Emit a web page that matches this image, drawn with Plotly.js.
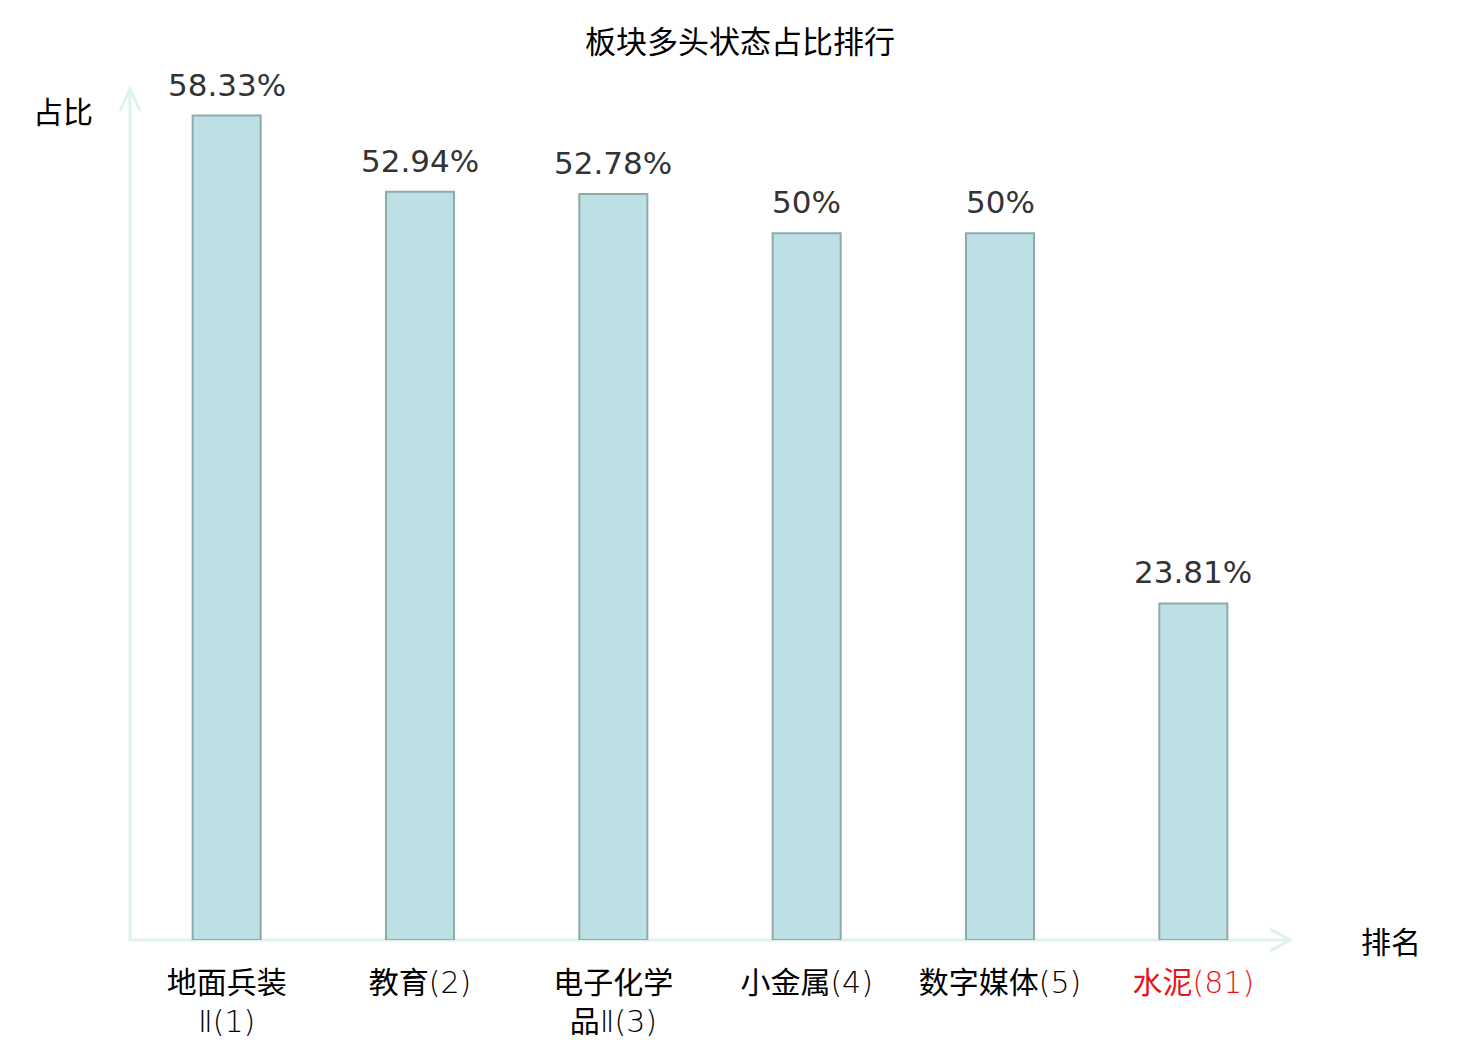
<!DOCTYPE html>
<html>
<head>
<meta charset="utf-8">
<script src="https://cdn.plot.ly/plotly-3.0.1.min.js"></script>
<style>
html,body{margin:0;padding:0;background:#fff;}
#chart{width:1480px;height:1040px;}
</style>
</head>
<body>
<div id="chart"></div>
<script>
// ---- data ----
const sectors = ['地面兵装Ⅱ', '教育', '电子化学品Ⅱ', '小金属', '数字媒体', '水泥'];
const ranks = [1, 2, 3, 4, 5, 81];
const shares = [58.33, 52.94, 52.78, 50, 50, 23.81];
const shareLabels = ['58.33%', '52.94%', '52.78%', '50%', '50%', '23.81%'];
const highlight = [false, false, false, false, false, true];

const chartTitle = '板块多头状态占比排行';
const yName = '占比';
const xName = '排名';

// ---- build labels ----
const thin = t => '<span style="font-family:DejaVu Sans;font-weight:200">' + t + '</span>';
function styleLatin(s) {
  // put non-CJK runs in a thin latin face
  return s.replace(/[^\u4e00-\u9fff<>a-z\/]+/g, m => thin(m));
}
function wrap(s, n) {
  const chars = Array.from(s);
  const out = [];
  for (let i = 0; i < chars.length; i += n) out.push(chars.slice(i, i + n).join(''));
  return out;
}
const idx = sectors.map((_, i) => i);
const tickText = sectors.map((s, i) => {
  const lines = wrap(s, 4);
  lines[lines.length - 1] += '(' + ranks[i] + ')';
  const t = lines.map(styleLatin).join('<br>');
  return highlight[i] ? '<span style="color:#e8141b">' + t + '</span>' : t;
});

const axisColor = '#dff2ef';
const cjkFont = '"Noto Sans CJK SC", sans-serif';

const trace = {
  type: 'bar',
  x: idx,
  y: shares,
  marker: {
    color: '#bce0e3',
    line: {color: '#8eaaaa', width: 2}
  },
  hoverinfo: 'skip'
};

const annotations = idx.map(i => ({
  x: i, y: shares[i], xref: 'x', yref: 'y',
  text: shareLabels[i], showarrow: false,
  xanchor: 'center', yanchor: 'bottom', yshift: 11,
  font: {family: 'DejaVu Sans', size: 31, color: '#333333'}
}));
annotations.push({
  x: -0.058, y: 0.979, xref: 'paper', yref: 'paper',
  text: yName, showarrow: false, xanchor: 'center', yanchor: 'middle',
  font: {family: cjkFont, size: 30, color: '#000'}
});
annotations.push({
  x: 1.087, y: 0.0, xref: 'paper', yref: 'paper',
  text: xName, showarrow: false, xanchor: 'center', yanchor: 'middle',
  font: {family: cjkFont, size: 30, color: '#000'}
});

// arrowheads in paper coords (plot area 1160 x 848 px)
const W = 1160, H = 848;
const shapes = [
  {type: 'line', xref: 'paper', yref: 'paper', x0: -1.5 / W, y0: 0, x1: 1, y1: 0,
   line: {color: axisColor, width: 3}, layer: 'below'},
  {type: 'line', xref: 'paper', yref: 'paper', x0: 0, y0: 0, x1: 0, y1: 1 + 3 / H,
   line: {color: axisColor, width: 3}, layer: 'below'},
  {type: 'path', xref: 'paper', yref: 'paper',
   path: `M${-10 / W},${1 - 19 / H} L0,${1 + 3 / H} L${10 / W},${1 - 19 / H}`,
   line: {color: axisColor, width: 3}},
  {type: 'path', xref: 'paper', yref: 'paper',
   path: `M${1 - 20 / W},${11 / H} L1,0 L${1 - 20 / W},${-11 / H}`,
   line: {color: axisColor, width: 3}}
];

const layout = {
  width: 1480, height: 1040,
  margin: {l: 130, r: 190, t: 92, b: 100, pad: 0},
  paper_bgcolor: '#ffffff', plot_bgcolor: '#ffffff',
  title: {
    text: chartTitle, x: 0.5, xref: 'container', xanchor: 'center',
    y: 1 - 42 / 1040, yref: 'container', yanchor: 'middle',
    font: {family: cjkFont, size: 31, color: '#000'}
  },
  bargap: 0.648,
  showlegend: false,
  xaxis: {
    range: [-0.5, 5.5], tickmode: 'array', tickvals: idx, ticktext: tickText,
    showgrid: false, zeroline: false, showline: false, ticks: '',
    ticklabelstandoff: 22,
    tickfont: {family: cjkFont, size: 30, color: '#000'},
    fixedrange: true
  },
  yaxis: {
    range: [0, 60], showgrid: false, zeroline: false, showline: false,
    showticklabels: false, ticks: '', fixedrange: true
  },
  annotations: annotations,
  shapes: shapes
};

Plotly.newPlot('chart', [trace], layout, {displayModeBar: false, staticPlot: true});
</script>
</body>
</html>
